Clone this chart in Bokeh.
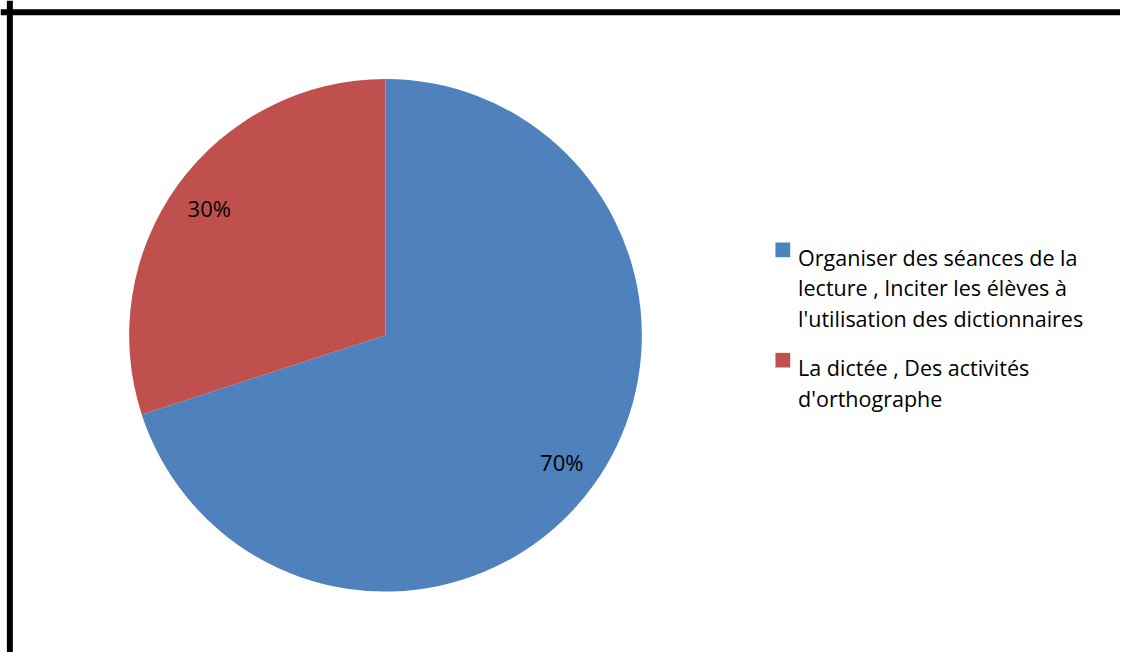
import math
from bokeh.plotting import figure
from bokeh.models import Range1d, Span
from bokeh.core.properties import value
from bokeh.embed import file_html
from bokeh.resources import INLINE

# ---- data ----
categories = [
    "Organiser des séances de la\nlecture , Inciter les élèves à\nl'utilisation des dictionnaires",
    "La dictée , Des activités\nd'orthographe",
]
percentages = [70, 30]
colors = ["#4F81BD", "#C0504D"]

# canvas coordinates: one data unit = one pixel of the original 1136x668 chart
REF_W, REF_H = 1136, 668
W, H = 1120, 652
FONT = "Open Sans"

p = figure(width=W, height=H, output_backend="svg", toolbar_location=None,
           x_range=Range1d(0, REF_W), y_range=Range1d(0, REF_H), min_border=0)
p.axis.visible = False
p.grid.visible = False
p.outline_line_color = None
p.background_fill_color = "white"


def py(y_img):
    return REF_H - y_img


cx, cy, r = 390.5, py(343), 260
lab_r = 221

# wedges, clockwise from 12 o'clock
total = sum(percentages)
end = 90.0
starts, ends, mids = [], [], []
for v in percentages:
    sweep = 360.0 * v / total
    s = end - sweep
    starts.append(math.radians(s))
    ends.append(math.radians(end))
    mids.append(math.radians((s + end) / 2))
    end = s

p.wedge(x=[cx] * len(percentages), y=[cy] * len(percentages), radius=r,
        start_angle=starts, end_angle=ends, fill_color=colors,
        line_color=None)

lx = [cx + lab_r * math.cos(a) for a in mids]
ly = [cy + lab_r * math.sin(a) for a in mids]
p.text(x=lx, y=ly, text=[f"{v}%" for v in percentages],
       text_align="center", text_baseline="middle",
       text_font=value(FONT), text_font_size="22px", text_color="#000000")

# legend
leg_x_sq = 793.5
leg_x_txt = 809
first_baseline = [263, 376]
line_gap = 31.5
for i, lab in enumerate(categories):
    b0 = first_baseline[i]
    p.rect(x=[leg_x_sq], y=[py(b0 - 7.5)], width=15, height=15,
           fill_color=colors[i], line_color=None)
    lines = lab.split("\n")
    p.text(x=[leg_x_txt] * len(lines),
           y=[py(b0 + k * line_gap) for k in range(len(lines))],
           text=lines, text_align="left", text_baseline="alphabetic",
           text_font=value(FONT), text_font_size="21.5px", text_color="#000000")

# border (top and left)
p.add_layout(Span(location=9.5, dimension="height", line_color="black", line_width=6))
p.add_layout(Span(location=py(12), dimension="width", line_color="black", line_width=6))

open("out.html", "w").write(file_html(p, INLINE))
